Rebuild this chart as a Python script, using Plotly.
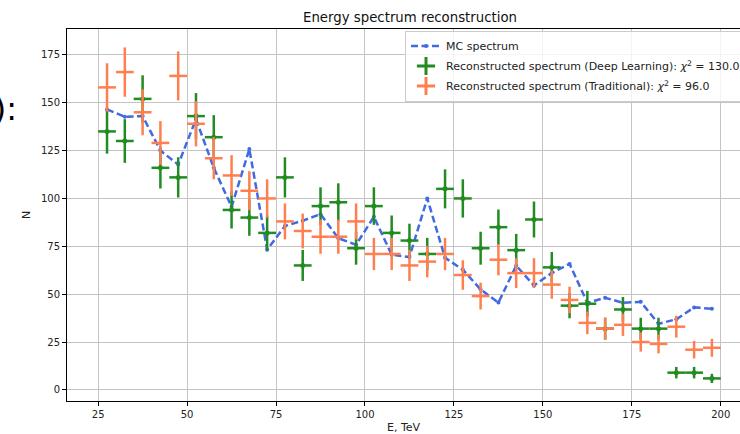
import plotly.graph_objects as go

# ---- data ----
energy_bins = [27.5, 32.5, 37.5, 42.5, 47.5, 52.5, 57.5, 62.5, 67.5, 72.5,
               77.5, 82.5, 87.5, 92.5, 97.5, 102.5, 107.5, 112.5, 117.5, 122.5,
               127.5, 132.5, 137.5, 142.5, 147.5, 152.5, 157.5, 162.5, 167.5, 172.5,
               177.5, 182.5, 187.5, 192.5, 197.5]
bin_half_width = 2.5

mc_spectrum = [146.5, 142.7, 143, 125, 117.7, 141.4, 116, 95.6, 125.8, 73.2,
               85.6, 88.4, 91.8, 79.2, 75.8, 90.4, 70.6, 69.4, 100, 69,
               62.8, 52.5, 45.6, 64.9, 54.5, 61.1, 65.8, 45.5, 48.1, 45.5,
               46, 34.5, 36.9, 43.1, 42.4]

dl_spectrum = [135, 130, 152, 116, 111, 143, 132, 94, 90, 82,
               111, 65, 96, 98, 74, 96, 82, 78, 71, 105,
               100, 74, 85, 73, 89, 64, 44, 45, 32, 42,
               32, 32, 9, 9, 6]
dl_err = [11.6, 11.4, 12.3, 10.8, 10.5, 12.0, 11.5, 9.7, 9.5, 9.1,
          10.5, 8.1, 9.8, 9.9, 8.6, 9.8, 9.1, 8.8, 8.4, 10.2,
          10.0, 8.6, 9.2, 8.5, 9.4, 8.0, 6.6, 6.7, 5.7, 6.5,
          5.7, 5.7, 3.0, 3.0, 2.4]

trad_spectrum = [158, 166, 145, 129, 164, 139, 121, 112, 104, 100,
                 88, 83, 80, 80, 88, 71, 71, 65, 67, 71,
                 60, 49, 68, 61, 61, 55, 47, 35, 32, 34,
                 25, 24, 33, 21, 22]
trad_err = [12.6, 12.9, 12.0, 11.4, 12.8, 11.8, 11.0, 10.6, 10.2, 10.0,
            9.4, 9.1, 8.9, 8.9, 9.4, 8.4, 8.4, 8.1, 8.2, 8.4,
            7.7, 7.0, 8.2, 7.8, 7.8, 7.4, 6.9, 5.9, 5.7, 5.8,
            5.0, 4.9, 5.7, 4.6, 4.7]

x_ticks = [25, 50, 75, 100, 125, 150, 175, 200]
y_ticks = [0, 25, 50, 75, 100, 125, 150, 175]

title_text = "Energy spectrum reconstruction"
mc_name = "MC spectrum"
dl_name = "Reconstructed spectrum (Deep Learning): <i>χ</i><sup>2</sup> = 130.0"
trad_name = "Reconstructed spectrum (Traditional): <i>χ</i><sup>2</sup> = 96.0"

BLUE = "#4169E1"
GREEN = "#228B22"
ORANGE = "#FF7F50"
FONT = "DejaVu Sans"

fig = go.Figure()

# MC spectrum
fig.add_trace(go.Scatter(
    x=energy_bins, y=mc_spectrum, name=mc_name, mode="lines+markers",
    legendgroup="mc",
    line=dict(color=BLUE, width=2.5, dash="7px,3.5px"),
    marker=dict(color=BLUE, size=4), showlegend=True))

# Deep learning reconstruction
fig.add_trace(go.Scatter(
    x=energy_bins, y=dl_spectrum, mode="markers", showlegend=False,
    marker=dict(color=GREEN, size=5),
    error_x=dict(type="constant", value=bin_half_width, width=0, thickness=2.5, color=GREEN),
    error_y=dict(type="data", array=dl_err, width=0, thickness=2.5, color=GREEN)))

# Traditional reconstruction
fig.add_trace(go.Scatter(
    x=energy_bins, y=trad_spectrum, mode="markers", showlegend=False,
    marker=dict(color=ORANGE, size=1, opacity=0),
    error_x=dict(type="constant", value=bin_half_width, width=0, thickness=2.5, color=ORANGE),
    error_y=dict(type="data", array=trad_err, width=0, thickness=2.5, color=ORANGE)))

# legend entries for the error-bar series
fig.add_trace(go.Scatter(
    x=[None], y=[None], name=dl_name, mode="markers", legendgroup="dl",
    marker=dict(symbol="cross-thin", size=13, color=GREEN, line=dict(color=GREEN, width=3))))
fig.add_trace(go.Scatter(
    x=[None], y=[None], name=trad_name, mode="markers", legendgroup="trad",
    marker=dict(symbol="cross-thin", size=13, color=ORANGE, line=dict(color=ORANGE, width=3))))

axis_common = dict(
    showline=True, linecolor="black", linewidth=1,
    ticks="outside", ticklen=4, tickwidth=1, tickcolor="black",
    showgrid=True, gridcolor="#c4c4c4", gridwidth=1,
    tickfont=dict(family=FONT, size=10, color="#222"),
)

fig.update_layout(
    width=740, height=434,
    margin=dict(l=67, r=0, t=29, b=33, autoexpand=False),
    paper_bgcolor="white", plot_bgcolor="white",
    font=dict(family=FONT, size=11, color="#222"),
    title=dict(text=title_text, x=0.5097, xref="paper", xanchor="center",
               y=1 - 17 / 434, yanchor="middle",
               font=dict(family=FONT, size=13.3, color="#111")),
    xaxis=dict(range=[16.25, 205.4], tickvals=x_ticks, zeroline=False, mirror=True,
               title=dict(text="E, TeV", standoff=5, font=dict(family=FONT, size=11, color="#222")),
               **axis_common),
    yaxis=dict(range=[-5.8, 188.5], tickvals=y_ticks, zeroline=False, mirror=False,
               title=dict(text="N", standoff=8, font=dict(family=FONT, size=11, color="#222")),
               **axis_common),
    legend=dict(x=(405 - 67) / 673, y=(401 - 30.5) / 372, xanchor="left", yanchor="top",
                bgcolor="rgba(255,255,255,0.8)", bordercolor="#cccccc", borderwidth=1,
                font=dict(family=FONT, size=11, color="#222"), tracegroupgap=1),
    annotations=[
        dict(text="(b):", xref="paper", yref="paper",
             x=(19 - 67) / 673, y=(401 - 109) / 372,
             xanchor="right", yanchor="middle", showarrow=False,
             font=dict(family=FONT, size=32, color="black")),
    ],
)

fig.write_html("out.html", config={"displayModeBar": False},
               post_script="document.body.style.margin='0';")
